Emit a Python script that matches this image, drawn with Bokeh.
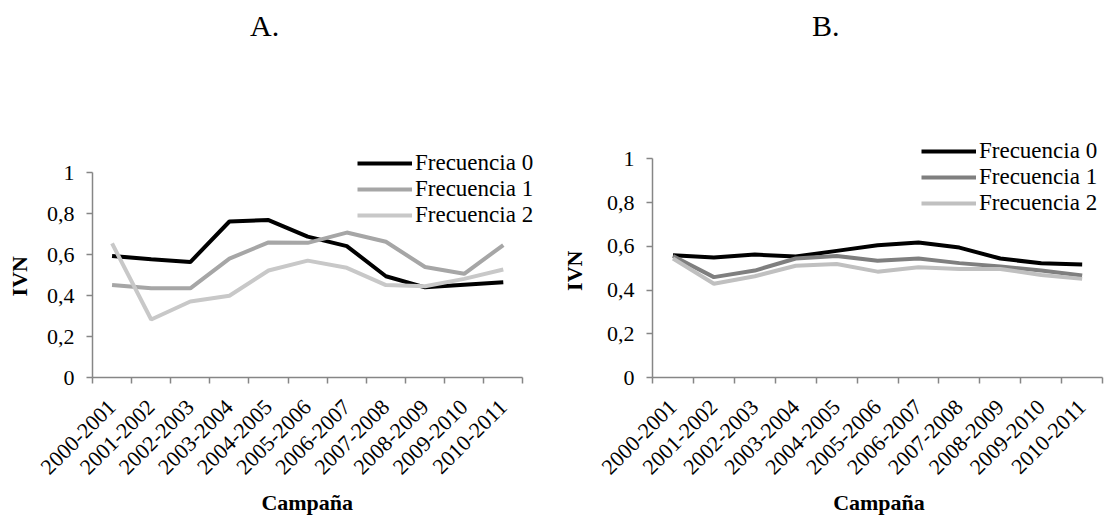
import math
from bokeh.plotting import figure
from bokeh.models import FixedTicker, Legend, LegendItem, Range1d, Div
from bokeh.layouts import row, column
from bokeh.embed import file_html
from bokeh.resources import INLINE

# ---- data ----
campanas = ["2000-2001", "2001-2002", "2002-2003", "2003-2004", "2004-2005",
            "2005-2006", "2006-2007", "2007-2008", "2008-2009", "2009-2010",
            "2010-2011"]
series_names = ["Frecuencia 0", "Frecuencia 1", "Frecuencia 2"]

a_frec0 = [0.593, 0.577, 0.563, 0.761, 0.768, 0.687, 0.641, 0.494, 0.440, 0.453, 0.465]
a_frec1 = [0.451, 0.435, 0.435, 0.580, 0.659, 0.657, 0.707, 0.662, 0.539, 0.506, 0.646]
a_frec2 = [0.654, 0.283, 0.371, 0.399, 0.522, 0.570, 0.535, 0.451, 0.445, 0.481, 0.527]

b_frec0 = [0.559, 0.549, 0.562, 0.553, 0.579, 0.605, 0.617, 0.594, 0.544, 0.522, 0.517]
b_frec1 = [0.556, 0.459, 0.489, 0.544, 0.556, 0.534, 0.544, 0.523, 0.508, 0.489, 0.466]
b_frec2 = [0.544, 0.429, 0.463, 0.511, 0.519, 0.484, 0.504, 0.496, 0.496, 0.469, 0.451]

y_ticks = [0, 0.2, 0.4, 0.6, 0.8, 1.0]
y_labels = ["0", "0,2", "0,4", "0,6", "0,8", "1"]

FONT = "Liberation Serif"
AXIS_COLOR = "#868686"
NB = "\u00a0"

TITLE_H = 40
FIG_H = 517 - TITLE_H
BORDER_TOP = 96
BORDER_BOTTOM = 140
FRAME_H = FIG_H - BORDER_TOP - BORDER_BOTTOM


def make_chart(series, colors, width, border_left, x_end, y1_px,
               legend_loc, ylab, xlab, ylab_standoff):
    n = len(campanas)
    xs = [i + 0.5 for i in range(n)]
    # y1_px: distance (px) from frame bottom to the value 1
    y_end = FRAME_H / y1_px
    p = figure(width=width, height=FIG_H, output_backend="svg",
               toolbar_location=None, x_range=Range1d(0, x_end),
               y_range=Range1d(0, y_end))
    p.min_border_left = border_left
    p.min_border_right = 0
    p.min_border_top = BORDER_TOP
    p.min_border_bottom = BORDER_BOTTOM
    p.outline_line_color = None
    p.xgrid.visible = False
    p.ygrid.visible = False
    p.background_fill_color = "white"
    p.border_fill_color = "white"

    items = []
    for name, vals, col in zip(series_names, series, colors):
        r = p.line(xs, vals, line_color=col, line_width=4)
        items.append(LegendItem(label=name, renderers=[r]))

    leg = Legend(items=items, location=legend_loc, padding=0, margin=0,
                 spacing=0, glyph_width=55, glyph_height=24, label_height=24,
                 label_standoff=3, border_line_alpha=0,
                 background_fill_alpha=0, label_text_font=FONT,
                 label_text_font_size="23px", label_text_color="black")
    p.add_layout(leg)

    # x axis
    xa = p.xaxis[0]
    xa.bounds = (0, n)
    xa.ticker = FixedTicker(ticks=xs, minor_ticks=list(range(n + 1)))
    xa.major_label_overrides = {x: c for x, c in zip(xs, campanas)}
    xa.major_label_orientation = math.pi / 4
    xa.major_tick_out = 0
    xa.major_tick_in = 0
    xa.minor_tick_out = 6
    xa.minor_tick_in = 0
    xa.minor_tick_line_color = AXIS_COLOR
    xa.minor_tick_line_width = 1.5
    xa.axis_line_color = AXIS_COLOR
    xa.axis_line_width = 1.5
    xa.major_label_standoff = 20
    xa.major_label_text_font = FONT
    xa.major_label_text_font_size = "22px"
    xa.major_label_text_color = "black"
    xa.axis_label = xlab
    xa.axis_label_text_font = FONT
    xa.axis_label_text_font_size = "22px"
    xa.axis_label_text_font_style = "bold"
    xa.axis_label_text_color = "black"
    xa.axis_label_standoff = 6

    # y axis
    ya = p.yaxis[0]
    ya.bounds = (0, 1)
    ya.ticker = FixedTicker(ticks=y_ticks, minor_ticks=[])
    ya.major_label_overrides = {t: l for t, l in zip(y_ticks, y_labels)}
    ya.major_tick_out = 6
    ya.major_tick_in = 0
    ya.major_tick_line_color = AXIS_COLOR
    ya.major_tick_line_width = 1.5
    ya.axis_line_color = AXIS_COLOR
    ya.axis_line_width = 1.5
    ya.major_label_standoff = 12
    ya.major_label_text_font = FONT
    ya.major_label_text_font_size = "22px"
    ya.major_label_text_color = "black"
    ya.axis_label = ylab
    ya.axis_label_text_font = FONT
    ya.axis_label_text_font_size = "22px"
    ya.axis_label_text_font_style = "bold"
    ya.axis_label_text_color = "black"
    ya.axis_label_standoff = ylab_standoff
    return p


pa = make_chart([a_frec0, a_frec1, a_frec2],
                ["#000000", "#a6a6a6", "#c8c8c8"],
                width=538, border_left=92, x_end=11.40, y1_px=205,
                legend_loc=(265, 149), ylab="IVN" + NB * 7,
                xlab="Campaña" + NB * 3, ylab_standoff=12)

pb = make_chart([b_frec0, b_frec1, b_frec2],
                ["#000000", "#7f7f7f", "#c0c0c0"],
                width=567, border_left=114, x_end=11.07, y1_px=218.7,
                legend_loc=(269, 161), ylab="IVN" + NB * 5,
                xlab="Campaña", ylab_standoff=17)

titles = Div(
    text=('<div style="position:relative;width:1105px;height:%dpx;'
          'font-family:\'Liberation Serif\',serif;font-size:30px;'
          'line-height:30px;color:#000">'
          '<span style="position:absolute;left:250px;top:11px">A.</span>'
          '<span style="position:absolute;left:812px;top:11px">B.</span>'
          '</div>') % TITLE_H,
    width=1105, height=TITLE_H, margin=(0, 0, 0, 0))

layout = column(titles, row(pa, pb))
open("out.html", "w").write(file_html(layout, INLINE))
